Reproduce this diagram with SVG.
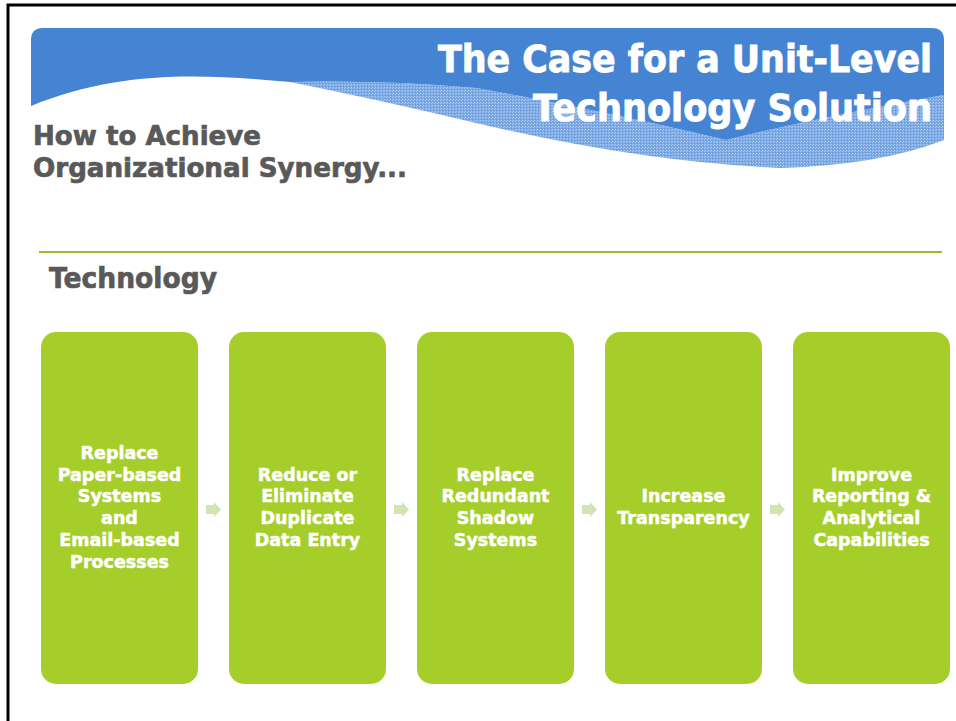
<svg xmlns="http://www.w3.org/2000/svg" width="956" height="721" viewBox="0 0 956 721">
<defs>
<pattern id="tex" width="3" height="3" patternUnits="userSpaceOnUse">
<rect width="3" height="3" fill="#7DA9E4"/>
<rect x="0" y="0" width="1" height="1" fill="#B4CEF2"/>
<rect x="2" y="1" width="1" height="1" fill="#A5C4EE"/>
<rect x="1" y="2" width="1" height="1" fill="#5F93DA"/>
</pattern>
<style>
.box{fill:#A6CE2A}
.bt{font-family:"DejaVu Sans","Liberation Sans",sans-serif;font-weight:bold;font-size:17.5px;fill:#FFFFFF;stroke:#FFFFFF;stroke-width:0.5;text-anchor:middle}
.arr{fill:#D2E4B2}
.hd{font-family:"DejaVu Sans","Liberation Sans",sans-serif;font-weight:bold;fill:#595959;stroke:#595959;stroke-width:0.7}
.tt{font-family:"DejaVu Sans","Liberation Sans",sans-serif;font-weight:bold;fill:#FFFFFF;stroke:#FFFFFF;stroke-width:0.9;font-size:37px;text-anchor:end}
</style>
</defs>
<rect x="0" y="0" width="956" height="721" fill="#FFFFFF"/>
<rect x="8" y="5" width="970" height="740" fill="none" stroke="#000000" stroke-width="3"/>

<g id="banner">
<path d="M290,82 Q380,100 476,123 Q640,162 780,168 Q880,165 944,140 L944,95 Q830,115 726,140 Q600,110 476,88 Q380,80 290,82 Z" fill="url(#tex)"/>
<path d="M31,106 L31,40 Q31,28 43,28 L932,28 Q944,28 944,40 L944,95 Q830,115 726,140 Q600,110 476,88 Q380,80 290,82 C200,74 120,70 31,106 Z" fill="#4584D3"/>
<text class="tt" x="932" y="72" textLength="494" lengthAdjust="spacingAndGlyphs">The Case for a Unit-Level</text>
<text class="tt" x="932" y="121" textLength="399" lengthAdjust="spacingAndGlyphs">Technology Solution</text>
</g>

<g id="subtitle">
<text class="hd" x="33" y="145" font-size="27" textLength="228" lengthAdjust="spacingAndGlyphs">How to Achieve</text>
<text class="hd" x="33" y="177" font-size="27" textLength="374" lengthAdjust="spacingAndGlyphs">Organizational Synergy...</text>
</g>

<line x1="39" y1="252" x2="942" y2="252" stroke="#9BBB2F" stroke-width="2"/>

<g id="section">
<text class="hd" x="49" y="288" font-size="28" textLength="168" lengthAdjust="spacingAndGlyphs">Technology</text>
</g>

<g id="n1">
<rect class="box" x="41" y="332" width="157" height="352" rx="15"/>
<text class="bt" x="119.5" y="459">Replace</text>
<text class="bt" x="119.5" y="481">Paper-based</text>
<text class="bt" x="119.5" y="502">Systems</text>
<text class="bt" x="119.5" y="524">and</text>
<text class="bt" x="119.5" y="546">Email-based</text>
<text class="bt" x="119.5" y="568">Processes</text>
</g>
<g id="n2">
<rect class="box" x="229" y="332" width="157" height="352" rx="15"/>
<text class="bt" x="307.5" y="481">Reduce or</text>
<text class="bt" x="307.5" y="502">Eliminate</text>
<text class="bt" x="307.5" y="524">Duplicate</text>
<text class="bt" x="307.5" y="546">Data Entry</text>
</g>
<g id="n3">
<rect class="box" x="417" y="332" width="157" height="352" rx="15"/>
<text class="bt" x="495.5" y="481">Replace</text>
<text class="bt" x="495.5" y="502">Redundant</text>
<text class="bt" x="495.5" y="524">Shadow</text>
<text class="bt" x="495.5" y="546">Systems</text>
</g>
<g id="n4">
<rect class="box" x="605" y="332" width="157" height="352" rx="15"/>
<text class="bt" x="683.5" y="502">Increase</text>
<text class="bt" x="683.5" y="524">Transparency</text>
</g>
<g id="n5">
<rect class="box" x="793" y="332" width="157" height="352" rx="15"/>
<text class="bt" x="871.5" y="481">Improve</text>
<text class="bt" x="871.5" y="502">Reporting &amp;</text>
<text class="bt" x="871.5" y="524">Analytical</text>
<text class="bt" x="871.5" y="546">Capabilities</text>
</g>

<g id="connectors">
<path class="arr" d="M206,505 L214,505 L214,502 L221,509.5 L214,517 L214,514 L206,514 Z"/>
<path class="arr" d="M394,505 L402,505 L402,502 L409,509.5 L402,517 L402,514 L394,514 Z"/>
<path class="arr" d="M582,505 L590,505 L590,502 L597,509.5 L590,517 L590,514 L582,514 Z"/>
<path class="arr" d="M770,505 L778,505 L778,502 L785,509.5 L778,517 L778,514 L770,514 Z"/>
</g>
</svg>
